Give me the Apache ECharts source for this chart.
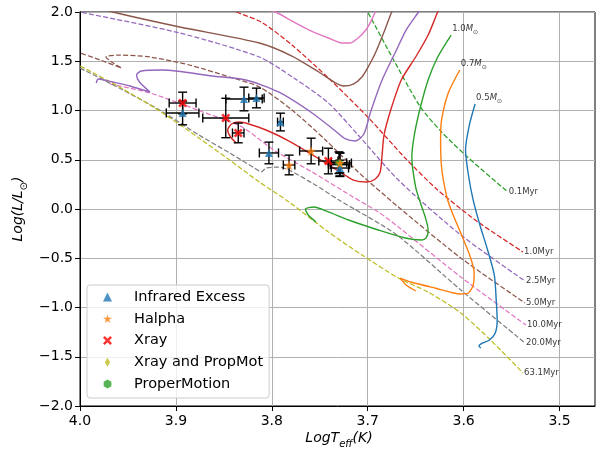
<!DOCTYPE html>
<html>
<head>
<meta charset="utf-8">
<script src="https://cdn.jsdelivr.net/npm/echarts@6/dist/echarts.min.js"></script>
<style>
html, body { margin: 0; padding: 0; background: #fff; }
#hrChart { width: 598px; height: 450px; }
</style>
</head>
<body>
<div id="hrChart"></div>
<script>
// evolutionary tracks, [logTeff, logL]
const track05 = [[3.588,1.066],[3.594,0.853],[3.598,0.599],[3.595,0.345],[3.590,0.091],[3.583,-0.162],[3.575,-0.416],[3.568,-0.670],[3.566,-0.924],[3.565,-1.127],[3.567,-1.259],[3.573,-1.330],[3.580,-1.360],[3.584,-1.391],[3.582,-1.411]];
const track07 = [[3.604,1.411],[3.616,1.178],[3.623,0.904],[3.624,0.701],[3.623,0.426],[3.618,0.142],[3.613,-0.010],[3.603,-0.244],[3.593,-0.487],[3.589,-0.650],[3.590,-0.772],[3.595,-0.853],[3.603,-0.863],[3.630,-0.802],[3.655,-0.741],[3.666,-0.701],[3.660,-0.772],[3.650,-0.832]];
const track10 = [[3.613,1.766],[3.627,1.543],[3.637,1.310],[3.645,1.036],[3.651,0.772],[3.654,0.528],[3.650,0.223],[3.645,0.061],[3.640,-0.081],[3.637,-0.213],[3.639,-0.294],[3.644,-0.315],[3.661,-0.294],[3.689,-0.213],[3.720,-0.112],[3.741,-0.030],[3.756,0.020],[3.765,0.000],[3.762,-0.061],[3.754,-0.132]];
const trackRed = [[3.622,2.10],[3.627,2.000],[3.637,1.766],[3.650,1.543],[3.665,1.310],[3.676,1.005],[3.683,0.751],[3.685,0.548],[3.687,0.376],[3.692,0.305],[3.701,0.274],[3.715,0.294],[3.727,0.365],[3.754,0.528],[3.782,0.690],[3.806,0.802],[3.824,0.863],[3.834,0.883],[3.842,0.863],[3.846,0.802],[3.843,0.731],[3.837,0.670]];
const trackPurple = [[3.983,1.279],[3.981,1.320],[3.966,1.289],[3.948,1.249],[3.927,1.188],[3.938,1.289],[3.941,1.360],[3.936,1.401],[3.914,1.411],[3.862,1.350],[3.827,1.310],[3.793,1.188],[3.758,0.975],[3.735,0.802],[3.723,0.711],[3.713,0.690],[3.704,0.761],[3.697,0.985],[3.685,1.310],[3.670,1.614],[3.660,1.817],[3.647,2.000],[3.640,2.10]];
const trackBrown = [[3.979,2.041],[3.966,2.000],[3.896,1.848],[3.813,1.685],[3.779,1.553],[3.751,1.391],[3.735,1.289],[3.725,1.249],[3.715,1.269],[3.706,1.340],[3.699,1.452],[3.692,1.584],[3.683,1.797],[3.675,2.000],[3.670,2.10]];
const trackPink = [[3.805,2.020],[3.796,2.000],[3.777,1.898],[3.761,1.817],[3.741,1.736],[3.727,1.685],[3.718,1.685],[3.710,1.736],[3.702,1.817],[3.697,1.898],[3.692,2.000],[3.688,2.05]];

// isochrones
const iso01 = [[3.707,2.12],[3.700,2.000],[3.673,1.513],[3.645,1.036],[3.623,0.782],[3.596,0.528],[3.554,0.173]];
const iso1 = [[3.850,2.071],[3.837,2.000],[3.811,1.898],[3.779,1.665],[3.741,1.330],[3.699,0.924],[3.661,0.518],[3.627,0.193],[3.585,-0.132],[3.538,-0.437]];
const iso25 = [[4.020,2.04],[4.000,2.000],[3.896,1.787],[3.813,1.543],[3.777,1.330],[3.741,1.076],[3.710,0.751],[3.668,0.294],[3.603,-0.264],[3.536,-0.731]];
const iso5 = [[4.020,1.65],[4.000,1.584],[3.979,1.513],[3.957,1.431],[3.967,1.492],[3.973,1.543],[3.959,1.563],[3.927,1.543],[3.886,1.462],[3.844,1.340],[3.813,1.239],[3.779,1.005],[3.744,0.701],[3.710,0.376],[3.668,0.020],[3.603,-0.497],[3.536,-0.954]];
const iso10 = [[3.969,1.269],[3.927,1.178],[3.872,0.985],[3.831,0.832],[3.798,0.599],[3.758,0.376],[3.717,0.132],[3.689,-0.030],[3.668,-0.183],[3.603,-0.690],[3.535,-1.178]];
const iso20 = [[4.020,1.53],[4.000,1.431],[3.959,1.228],[3.917,1.005],[3.876,0.751],[3.844,0.569],[3.818,0.416],[3.811,0.376],[3.806,0.416],[3.793,0.426],[3.758,0.264],[3.730,0.091],[3.671,-0.254],[3.603,-0.822],[3.536,-1.360]];
const iso63 = [[4.020,1.55],[4.000,1.452],[3.959,1.239],[3.917,0.995],[3.876,0.721],[3.844,0.497],[3.813,0.274],[3.782,0.071],[3.741,-0.234],[3.706,-0.467],[3.668,-0.701],[3.637,-0.843],[3.603,-1.056],[3.572,-1.330],[3.538,-1.665]];

const trackNames = ['1.0', '0.7', '0.5'];
const isoNames = ['0.1Myr', '1.0Myr', '2.5Myr', '5.0Myr', '10.0Myr', '20.0Myr', '63.1Myr'];

// stars with error bars
const irX = [3.893, 3.829, 3.816, 3.791, 3.803, 3.729];
const irY = [0.975, 1.117, 1.127, 0.883, 0.569, 0.416];
const irXerr = [0.017, 0.019, 0.008, 0.003, 0.010, 0.009];
const irYerr = [0.12, 0.12, 0.10, 0.09, 0.11, 0.08];

const haX = [3.782, 3.759, 3.729];
const haY = [0.447, 0.589, 0.467];
const haXerr = [0.006, 0.012, 0.012];
const haYerr = [0.10, 0.13, 0.10];

const xrX = [3.893, 3.848, 3.835, 3.741];
const xrY = [1.076, 0.924, 0.772, 0.487];
const xrXerr = [0.014, 0.024, 0.006, 0.010];
const xrYerr = [0.11, 0.20, 0.10, 0.13];

const xpX = [3.729];
const xpY = [0.450];
const xpXerr = [0.010];
const xpYerr = [0.12];

const pmX = [3.730];
const pmY = [0.470];
const pmXerr = [0.008];
const pmYerr = [0.11];

const xRange = [3.463, 4.0];
const xTicks = [3.5, 3.6, 3.7, 3.8, 3.9, 4.0];
const yRange = [-2.0, 2.0];

const FONT = 'DejaVu Sans';
const starPath = 'path://M50,0 L61,35 L98,35 L68,57 L79,91 L50,70 L21,91 L32,57 L2,35 L39,35 Z';
const xPath = 'path://M2,0 L5,3 L8,0 L10,2 L7,5 L10,8 L8,10 L5,7 L2,10 L0,8 L3,5 L0,2 Z';
const hexPath = 'path://M50,0 L93,25 L93,75 L50,100 L7,75 L7,25 Z';
const diamondPath = 'path://M30,0 L60,50 L30,100 L0,50 Z';

function zip(xs, ys, exs, eys) {
  return xs.map((x, i) => [x, ys[i], exs[i], eys[i]]);
}

function lineSeries(data, color, dashed) {
  return {
    type: 'line',
    data: data,
    showSymbol: false,
    symbol: 'none',
    smooth: 0.25,
    silent: true,
    z: 2,
    lineStyle: { color: color, width: dashed ? 1.25 : 1.4, type: dashed ? [5, 2.2] : 'solid' }
  };
}

function renderErrorBar(params, api) {
  const x = api.value(0), y = api.value(1), ex = api.value(2), ey = api.value(3);
  const l = api.coord([x + ex, y]);
  const r = api.coord([x - ex, y]);
  const t = api.coord([x, y + ey]);
  const b = api.coord([x, y - ey]);
  const cap = 4.5;
  const seg = (x1, y1, x2, y2) => ({
    type: 'line',
    shape: { x1: x1, y1: y1, x2: x2, y2: y2 },
    style: { stroke: '#000', lineWidth: 1.4 }
  });
  return {
    type: 'group',
    children: [
      seg(l[0], l[1], r[0], r[1]),
      seg(t[0], t[1], b[0], b[1]),
      seg(l[0], l[1] - cap, l[0], l[1] + cap),
      seg(r[0], r[1] - cap, r[0], r[1] + cap),
      seg(t[0] - cap, t[1], t[0] + cap, t[1]),
      seg(b[0] - cap, b[1], b[0] + cap, b[1])
    ]
  };
}

const errData = [].concat(
  zip(irX, irY, irXerr, irYerr),
  zip(haX, haY, haXerr, haYerr),
  zip(xrX, xrY, xrXerr, xrYerr),
  zip(xpX, xpY, xpXerr, xpYerr),
  zip(pmX, pmY, pmXerr, pmYerr)
);

const tracks = [track10, track07, track05];
const isos = [iso01, iso1, iso25, iso5, iso10, iso20, iso63];

// only label whole tenths; the clipped right edge of the axis stays blank
function tenthLabel(v) {
  const r = Math.round(v * 10) / 10;
  return Math.abs(v - r) < 1e-6 ? r.toFixed(1) : '';
}

let chartDom = document.getElementById('hrChart');
let myChart = echarts.init(chartDom, null, { renderer: 'canvas' });

let option = {
  animation: false,
  backgroundColor: '#fff',
  grid: {
    left: 80, top: 12, right: 0, bottom: 44,
    show: true, borderColor: '#000', borderWidth: 1, backgroundColor: 'transparent'
  },
  legend: {
    orient: 'vertical',
    left: 87, top: 285,
    padding: [4, 6, 6, 16],
    itemGap: 5.75,
    itemWidth: 9, itemHeight: 9,
    backgroundColor: 'rgba(255,255,255,0.8)',
    borderColor: '#cccccc', borderWidth: 1, borderRadius: 3,
    textStyle: { fontFamily: FONT, fontSize: 14.5, color: '#000', lineHeight: 16, padding: [0, 0, 0, 17] },
    data: ['Infrared Excess', 'Halpha', 'Xray', 'Xray and PropMot', 'ProperMotion']
  },
  xAxis: {
    type: 'value', inverse: true, min: xRange[0], max: xRange[1],
    minInterval: 0.1, maxInterval: 0.1,
    axisLine: { show: true, onZero: false, lineStyle: { color: '#000', width: 1 } },
    axisTick: { show: true, length: 5, customValues: xTicks, lineStyle: { color: '#000', width: 1 } },
    axisLabel: { fontFamily: FONT, fontSize: 14, color: '#000', margin: 8, showMinLabel: true, showMaxLabel: true,
      formatter: tenthLabel },
    splitLine: { show: true, lineStyle: { color: '#b0b0b0', width: 1 } }
  },
  yAxis: {
    type: 'value', min: yRange[0], max: yRange[1], interval: 0.5,
    axisLine: { show: true, onZero: false, lineStyle: { color: '#000', width: 1 } },
    axisTick: { show: true, length: 5, lineStyle: { color: '#000', width: 1 } },
    axisLabel: { fontFamily: FONT, fontSize: 14, color: '#000', margin: 7,
      formatter: v => v.toFixed(1).replace('-', '\u2212') },
    splitLine: { show: true, lineStyle: { color: '#b0b0b0', width: 1 } }
  },
  graphic: [
    {
      type: 'text', x: 339, y: 438,
      style: {
        text: '{i|LogT}{s|eff}{i|(K)}',
        align: 'center', verticalAlign: 'middle',
        rich: {
          i: { fontFamily: FONT, fontSize: 14, fontStyle: 'italic', color: '#000', lineHeight: 22, verticalAlign: 'middle' },
          s: { fontFamily: FONT, fontSize: 10, fontStyle: 'italic', color: '#000', lineHeight: 22, verticalAlign: 'bottom' }
        }
      }
    },
    {
      type: 'text', x: 18, y: 209, rotation: Math.PI / 2,
      style: {
        text: '{i|Log(L/L}{s|\u2299}{i|)}',
        align: 'center', verticalAlign: 'middle',
        rich: {
          i: { fontFamily: FONT, fontSize: 14, fontStyle: 'italic', color: '#000', lineHeight: 22, verticalAlign: 'middle' },
          s: { fontFamily: FONT, fontSize: 10, color: '#000', lineHeight: 22, verticalAlign: 'bottom' }
        }
      }
    }
  ],
  series: [
    lineSeries(iso01, '#2ca02c', true),
    lineSeries(iso1, '#d62728', true),
    lineSeries(iso25, '#9467bd', true),
    lineSeries(iso5, '#8c564b', true),
    lineSeries(iso10, '#e377c2', true),
    lineSeries(iso20, '#7f7f7f', true),
    lineSeries(iso63, '#bcbd22', true),
    lineSeries(track05, '#1f77b4', false),
    lineSeries(track07, '#ff7f0e', false),
    lineSeries(track10, '#2ca02c', false),
    lineSeries(trackRed, '#d62728', false),
    lineSeries(trackPurple, '#9467bd', false),
    lineSeries(trackBrown, '#8c564b', false),
    lineSeries(trackPink, '#e377c2', false),
    {
      type: 'scatter', symbolSize: 0, silent: true, z: 3,
      data: tracks.map((t, i) => ({ value: t[0], name: trackNames[i] })),
      label: {
        show: true, position: [1, 0], align: 'left', verticalAlign: 'bottom',
        fontFamily: FONT, fontSize: 8.5, color: '#000',
        formatter: p => p.name + '{m|M}{s|\u2299}',
        rich: {
          m: { fontFamily: FONT, fontSize: 8.5, fontStyle: 'italic', color: '#000' },
          s: { fontFamily: FONT, fontSize: 6, color: '#000', verticalAlign: 'bottom', lineHeight: 12 }
        }
      }
    },
    {
      type: 'scatter', symbolSize: 0, silent: true, z: 3,
      data: isos.map((t, i) => ({ value: t[t.length - 1], name: isoNames[i] })),
      label: {
        show: true, position: [1, 0], align: 'left', verticalAlign: 'middle',
        fontFamily: FONT, fontSize: 8.5, color: '#000',
        formatter: p => p.name
      }
    },
    {
      type: 'custom', silent: true, z: 4,
      renderItem: renderErrorBar,
      encode: { x: 0, y: 1 },
      data: errData
    },
    {
      name: 'Xray and PropMot', type: 'scatter', z: 5,
      symbol: diamondPath, symbolSize: [5, 9],
      itemStyle: { color: '#bcbd22' },
      data: xpX.map((x, i) => [x, xpY[i]])
    },
    {
      name: 'ProperMotion', type: 'scatter', z: 5,
      symbol: hexPath, symbolSize: 7,
      itemStyle: { color: '#2ca02c' },
      data: pmX.map((x, i) => [x, pmY[i]])
    },
    {
      name: 'Infrared Excess', type: 'scatter', z: 6,
      symbol: 'triangle', symbolSize: 8,
      itemStyle: { color: '#1f77b4' },
      data: irX.map((x, i) => [x, irY[i]])
    },
    {
      name: 'Halpha', type: 'scatter', z: 6,
      symbol: starPath, symbolSize: 10,
      itemStyle: { color: '#ff7f0e' },
      data: haX.map((x, i) => [x, haY[i]])
    },
    {
      name: 'Xray', type: 'scatter', z: 6,
      symbol: xPath, symbolSize: 9,
      itemStyle: { color: '#ff0000' },
      data: xrX.map((x, i) => [x, xrY[i]])
    }
  ]
};
myChart.setOption(option);
</script>
</body>
</html>
